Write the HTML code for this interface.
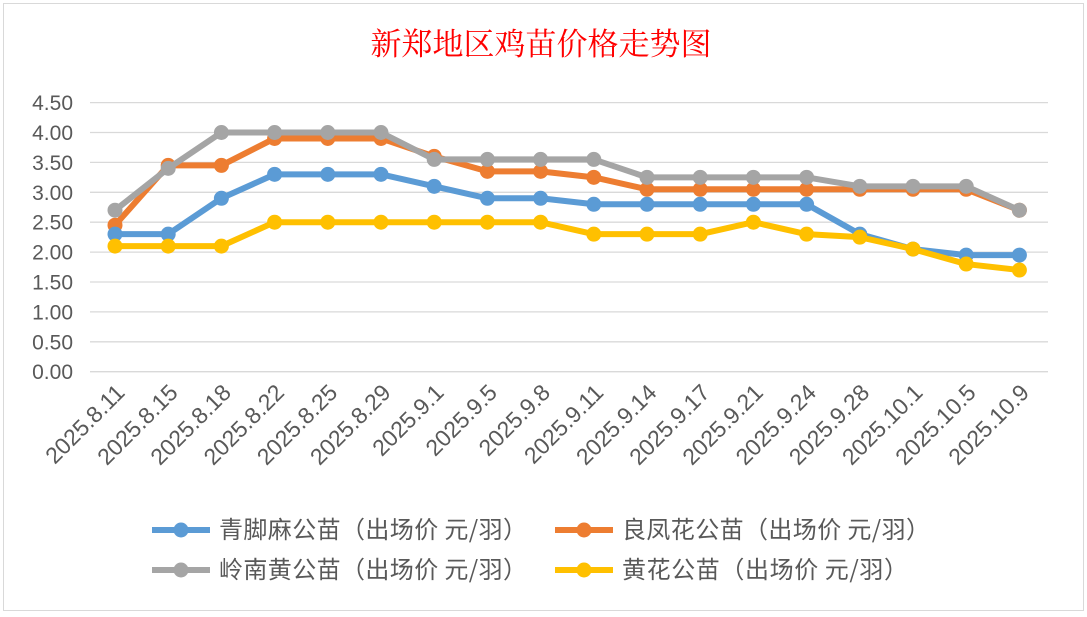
<!DOCTYPE html>
<html><head><meta charset="utf-8"><style>
html,body{margin:0;padding:0;background:#fff;}
svg{display:block;}
</style></head><body>
<svg id="s" width="1087" height="617" xmlns="http://www.w3.org/2000/svg">
<rect x="0" y="0" width="1087" height="617" fill="#fff"/>
<rect x="3.5" y="3.5" width="1080" height="607" fill="#fff" stroke="#d9d9d9" stroke-width="1"/>
<text x="541" y="55" text-anchor="middle" font-family="Liberation Serif,'Noto Serif CJK SC',serif" font-size="31" fill="#ff0000">新郑地区鸡苗价格走势图</text>
<g id="g"></g>
</svg>
<script>
const g=document.getElementById('g');let h='';
const Y=v=>371.7-v*59.8, X=i=>115+i*53.2;
for(let k=0;k<=9;k++){const y=Y(k*0.5);h+=`<line x1="90" x2="1048" y1="${y}" y2="${y}" stroke="#d9d9d9" stroke-width="1.3"/>`;
h+=`<text x="73" y="${y+7.5}" text-anchor="end" font-family="Liberation Sans,sans-serif" font-size="21" fill="#595959">${(k*0.5).toFixed(2)}</text>`;}
const lab=["2025.8.11","2025.8.15","2025.8.18","2025.8.22","2025.8.25","2025.8.29","2025.9.1","2025.9.5","2025.9.8","2025.9.11","2025.9.14","2025.9.17","2025.9.21","2025.9.24","2025.9.28","2025.10.1","2025.10.5","2025.10.9"];
lab.forEach((l,i)=>{const x=X(i)+11,y=394;h+=`<text x="${x}" y="${y}" text-anchor="end" transform="rotate(-45 ${x} ${y})" font-family="Liberation Sans,sans-serif" font-size="23" fill="#595959">${l}</text>`;});
const S=[
["#ed7d31",[2.45,3.45,3.45,3.9,3.9,3.9,3.6,3.35,3.35,3.25,3.05,3.05,3.05,3.05,3.05,3.05,3.05,2.7]],
["#5b9bd5",[2.3,2.3,2.9,3.3,3.3,3.3,3.1,2.9,2.9,2.8,2.8,2.8,2.8,2.8,2.3,2.05,1.95,1.95]],
["#a5a5a5",[2.7,3.4,4.0,4.0,4.0,4.0,3.55,3.55,3.55,3.55,3.25,3.25,3.25,3.25,3.1,3.1,3.1,2.7]],
["#ffc000",[2.1,2.1,2.1,2.5,2.5,2.5,2.5,2.5,2.5,2.3,2.3,2.3,2.5,2.3,2.25,2.05,1.8,1.7]]];
S.forEach(([c,d])=>{h+=`<polyline fill="none" stroke="${c}" stroke-width="6" stroke-linejoin="round" points="${d.map((v,i)=>X(i)+','+Y(v)).join(' ')}"/>`;
d.forEach((v,i)=>h+=`<circle cx="${X(i)}" cy="${Y(v)}" r="7.5" fill="${c}"/>`);});
const L=[["#5b9bd5",152,530,"青脚麻公苗（出场价 元/羽）"],["#ed7d31",555,530,"良凤花公苗（出场价 元/羽）"],["#a5a5a5",152,570,"岭南黄公苗（出场价 元/羽）"],["#ffc000",555,570,"黄花公苗（出场价 元/羽）"]];
L.forEach(([c,x,y,t])=>{h+=`<line x1="${x}" x2="${x+58}" y1="${y}" y2="${y}" stroke="${c}" stroke-width="6"/><circle cx="${x+29}" cy="${y}" r="7.5" fill="${c}"/>`;
h+=`<text x="${x+67}" y="${y+8}" textLength="${t.length*22}" font-family="'Noto Sans CJK SC',sans-serif" font-size="24" fill="#595959">${t}</text>`;});
g.innerHTML=h;
</script>
</body></html>
